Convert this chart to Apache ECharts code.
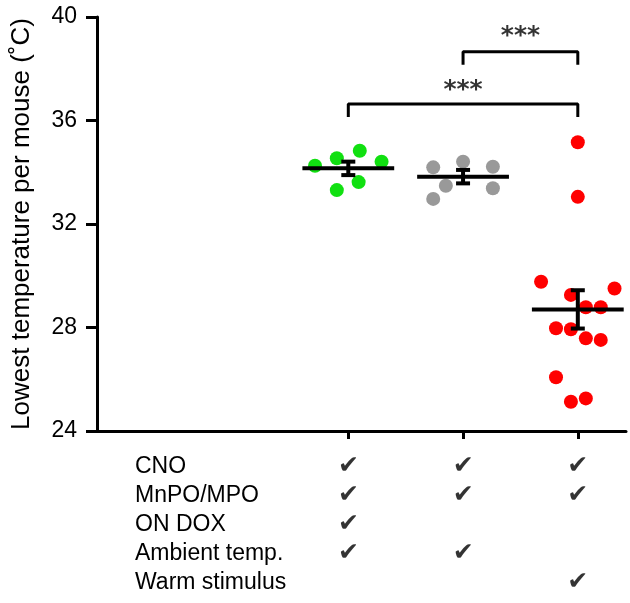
<!DOCTYPE html>
<html>
<head>
<meta charset="utf-8">
<script src="https://cdn.jsdelivr.net/npm/echarts@6/dist/echarts.min.js"></script>
<style>
  html, body { margin: 0; padding: 0; background: #fff; }
  #chart { width: 630px; height: 603px; }
</style>
</head>
<body>
<div id="chart"></div>
<script>
// group positions on the x value axis: 1, 2, 3
const groupPos = [1, 2, 3];
const groupColors = ["#11e011", "#999999", "#ff0000"];

// per-mouse lowest temperatures (°C) and the horizontal jitter
const onDoxTemps = [34.25, 34.54, 34.83, 34.41, 33.31, 33.62];
const onDoxJitter = [-0.29, -0.10, 0.10, 0.29, -0.10, 0.09];
const ambientTemps = [34.19, 34.41, 34.21, 33.48, 33.38, 32.97];
const ambientJitter = [-0.26, 0, 0.26, -0.15, 0.26, -0.26];
const warmTemps = [35.16, 33.05, 29.77, 29.26, 29.51, 28.78, 28.78, 27.97, 27.93, 27.58, 27.52, 26.08, 25.13, 25.26];
const warmJitter = [0, 0, -0.32, -0.06, 0.32, 0.07, 0.20, -0.19, -0.06, 0.07, 0.20, -0.19, -0.06, 0.07];

// mean ± SEM per group
const groupMeans = [34.15, 33.83, 28.70];
const groupSem = [0.26, 0.26, 0.74];

// significance brackets: [from, to, bar height, drop end, stars, stars height]
const brackets = [
  [2, 3, 38.66, 38.15, "***", 39.25],
  [1, 3, 36.64, 36.14, "***", 37.15],
];

const yTicks = [24, 28, 32, 36, 40];

// condition table under the plot
const rowLabels = ["CNO", "MnPO/MPO", "ON DOX", "Ambient temp.", "Warm stimulus"];
const checks = [
  [1, 1, 1],
  [1, 1, 1],
  [1, 0, 0],
  [1, 1, 0],
  [0, 0, 1],
];

const xMin = -1.19;
const xMax = 3.42;
const font = "'Liberation Sans', Arial, sans-serif";

function points(temps, jitter, g) {
  return temps.map((t, i) => [groupPos[g] + jitter[i], t]);
}

const chart = echarts.init(document.getElementById("chart"), null, { renderer: "canvas" });

const checkData = [];
checks.forEach((row, r) => {
  row.forEach((on, c) => {
    if (on) checkData.push([groupPos[c], r]);
  });
});

const bracketSeries = brackets.map((b) => ({
  type: "line",
  xAxisIndex: 0,
  yAxisIndex: 0,
  symbol: "none",
  silent: true,
  lineStyle: { color: "#000", width: 3 },
  data: [[b[0], b[3]], [b[0], b[2]], [b[1], b[2]], [b[1], b[3]]],
  z: 5,
}));

chart.setOption({
  animation: false,
  grid: [
    { left: 97, right: 4, top: 17, bottom: 172 },
    { left: 135, right: 4, top: 452, height: 145 },
  ],
  xAxis: [
    {
      type: "value",
      gridIndex: 0,
      min: xMin,
      max: xMax,
      axisLine: { show: true, onZero: false, lineStyle: { color: "#000", width: 3 } },
      axisTick: { show: true, customValues: groupPos, length: 8, lineStyle: { color: "#000", width: 3 } },
      axisLabel: { show: false },
      splitLine: { show: false },
    },
    {
      type: "value",
      gridIndex: 1,
      min: 1 - (348.5 - 135) / 114.75,
      max: xMax,
      show: false,
    },
  ],
  yAxis: [
    {
      type: "value",
      gridIndex: 0,
      min: 24,
      max: 40,
      interval: 4,
      name: "Lowest temperature per mouse (\u02DAC)",
      nameLocation: "middle",
      nameGap: 62,
      nameTextStyle: { color: "#000", fontSize: 26, fontFamily: font },
      axisLine: { show: true, onZero: false, lineStyle: { color: "#000", width: 3 } },
      axisTick: { show: true, length: 11, lineStyle: { color: "#000", width: 3 } },
      axisLabel: { color: "#000", fontSize: 23, fontFamily: font, margin: 20,
        formatter: (v) => (yTicks.includes(v) ? String(v) : "") },
      splitLine: { show: false },
    },
    {
      type: "category",
      gridIndex: 1,
      inverse: true,
      data: rowLabels,
      axisLine: { show: false },
      axisTick: { show: false },
      axisLabel: { inside: true, interval: 0, margin: 0, align: "left", color: "#000", fontSize: 23, fontFamily: font },
    },
  ],
  series: [
    {
      type: "scatter",
      symbolSize: 14,
      itemStyle: { color: groupColors[0], opacity: 1 },
      data: points(onDoxTemps, onDoxJitter, 0),
      z: 2,
    },
    {
      type: "scatter",
      symbolSize: 14,
      itemStyle: { color: groupColors[1], opacity: 1 },
      data: points(ambientTemps, ambientJitter, 1),
      z: 2,
    },
    {
      type: "scatter",
      symbolSize: 14,
      itemStyle: { color: groupColors[2], opacity: 1 },
      data: points(warmTemps, warmJitter, 2),
      z: 2,
    },
    {
      type: "custom",
      silent: true,
      z: 4,
      data: groupMeans.map((m, i) => [groupPos[i], m, groupSem[i]]),
      renderItem: (params, api) => {
        const x = api.value(0);
        const m = api.value(1);
        const s = api.value(2);
        const left = api.coord([x - 0.4, m]);
        const right = api.coord([x + 0.4, m]);
        const top = api.coord([x, m + s]);
        const bottom = api.coord([x, m - s]);
        const style = { stroke: "#000", lineWidth: 4 };
        const cap = 7;
        return {
          type: "group",
          children: [
            { type: "line", shape: { x1: left[0], y1: left[1], x2: right[0], y2: right[1] }, style },
            { type: "line", shape: { x1: top[0], y1: top[1], x2: bottom[0], y2: bottom[1] }, style },
            { type: "line", shape: { x1: top[0] - cap, y1: top[1], x2: top[0] + cap, y2: top[1] }, style },
            { type: "line", shape: { x1: bottom[0] - cap, y1: bottom[1], x2: bottom[0] + cap, y2: bottom[1] }, style },
          ],
        };
      },
    },
    ...bracketSeries,
    {
      type: "scatter",
      silent: true,
      symbolSize: 1,
      itemStyle: { color: "rgba(0,0,0,0)" },
      label: { show: true, position: "inside", formatter: (p) => p.data[2],
        color: "#000", fontSize: 25, fontWeight: "bold", fontFamily: "'DejaVu Sans', sans-serif" },
      data: brackets.map((b) => [(b[0] + b[1]) / 2, b[5], b[4]]),
      z: 6,
    },
    {
      type: "scatter",
      xAxisIndex: 1,
      yAxisIndex: 1,
      silent: true,
      symbolSize: 1,
      itemStyle: { color: "rgba(0,0,0,0)" },
      label: { show: true, position: "inside", formatter: "\u2714",
        color: "#000", fontSize: 25, fontWeight: "bold", fontFamily: "'DejaVu Sans', sans-serif" },
      data: checkData,
    },
  ],
});
</script>
</body>
</html>
